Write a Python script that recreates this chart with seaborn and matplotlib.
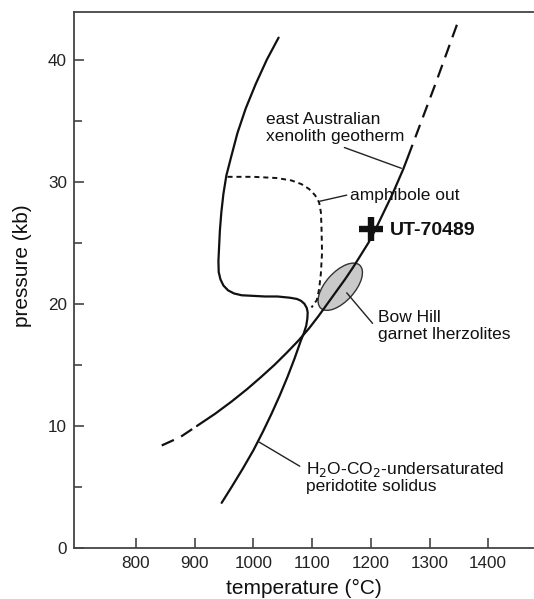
import numpy as np
import pandas as pd
import matplotlib
matplotlib.use("Agg")
import matplotlib.pyplot as plt
import seaborn as sns
from matplotlib.patches import Ellipse
from matplotlib.transforms import ScaledTranslation
from matplotlib.ticker import MultipleLocator

# ---------------- data ----------------
# H2O-CO2-undersaturated peridotite solidus (temperature °C, pressure kb)
solidus_T = [946, 963, 982, 1000, 1016, 1031, 1045, 1058, 1070, 1081, 1086, 1090,
             1092, 1092.5, 1091, 1087, 1081, 1074, 1062, 1041, 1020, 1000, 980,
             967, 957, 949, 944, 941, 940.5, 941.5, 943, 945.5, 949, 954, 962,
             973, 987, 1004, 1023, 1043]
solidus_P = [3.7, 5.0, 6.5, 8.0, 9.5, 11.0, 12.5, 14.0, 15.5, 17.0, 17.6, 18.2,
             18.8, 19.3, 19.65, 20.0, 20.25, 20.4, 20.5, 20.6, 20.6, 20.65, 20.7,
             20.85, 21.1, 21.5, 22.0, 22.6, 23.5, 24.5, 26.0, 27.5, 29.0, 30.5, 32.0,
             34.0, 36.0, 38.0, 40.0, 41.8]

# east Australian xenolith geotherm: solid part and dashed extrapolations
geo_T = [904, 935, 963, 989, 1013, 1036, 1057, 1077, 1095, 1111, 1126, 1141,
         1156, 1170, 1183, 1196, 1207, 1217, 1227, 1237, 1246, 1255, 1263]
geo_P = [10.0, 11.0, 12.0, 13.0, 14.0, 15.0, 16.0, 17.0, 18.0, 19.0, 20.0, 21.0,
         22.0, 23.0, 24.0, 25.0, 26.0, 27.0, 28.0, 29.0, 30.0, 31.0, 32.0]
geo_low_T = [844, 876, 904]
geo_low_P = [8.4, 9.1, 10.0]
geo_high_T = [1263, 1310, 1347]
geo_high_P = [32.0, 38.0, 42.9]

# amphibole-out boundary (dashed)
amph_T = [956, 1000, 1040, 1065, 1082, 1095, 1105, 1112, 1115, 1116, 1117,
          1115, 1112, 1108, 1099]
amph_P = [30.4, 30.4, 30.3, 30.1, 29.8, 29.4, 28.9, 28.3, 27.5, 26.3, 24.2,
          22.5, 21.2, 20.3, 19.7]

# sample UT-70489 and Bow Hill garnet lherzolite field centre
sample_T = [1201]
sample_P = [26.1]
bowhill_T = 1148
bowhill_P = 21.4

x_ticks = [800, 900, 1000, 1100, 1200, 1300, 1400]
y_ticks = [0, 10, 20, 30, 40]

# ---------------- figure ----------------
sns.set_theme(style="ticks")
plt.rcParams['font.family'] = ['Liberation Sans', 'DejaVu Sans']

fig = plt.figure(figsize=(5.34, 5.99), dpi=100)
ax = fig.add_axes([0.1386, 0.0851, 0.8614 - 0.001, 0.8949])

ink = "#111111"
lw = 1.6

sol_df = pd.DataFrame({"T": solidus_T, "P": solidus_P})
sns.lineplot(data=sol_df, x="T", y="P", sort=False, estimator=None, ax=ax,
             color=ink, lw=lw)

geo_df = pd.DataFrame({"T": geo_T, "P": geo_P})
sns.lineplot(data=geo_df, x="T", y="P", sort=False, estimator=None, ax=ax,
             color=ink, lw=lw)
for tt, pp in [(geo_low_T, geo_low_P), (geo_high_T, geo_high_P)]:
    d = pd.DataFrame({"T": tt, "P": pp})
    l = sns.lineplot(data=d, x="T", y="P", sort=False, estimator=None, ax=ax,
                     color=ink, lw=lw)
    l.lines[-1].set_dashes([6.0, 3.6])

amph_df = pd.DataFrame({"T": amph_T, "P": amph_P})
sns.lineplot(data=amph_df, x="T", y="P", sort=False, estimator=None, ax=ax,
             color=ink, lw=1.4)
ax.lines[-1].set_dashes([2.6, 2.0])

# Bow Hill ellipse (size in display inches, centred at data point)
ell = Ellipse((0, 0), width=0.58, height=0.29, angle=48,
              transform=fig.dpi_scale_trans + ScaledTranslation(bowhill_T, bowhill_P, ax.transData),
              facecolor="#c9c9c9", edgecolor="#333333", lw=1.0, zorder=1)
ax.add_patch(ell)

# UT-70489 cross
sns.scatterplot(x=sample_T, y=sample_P, marker="+", s=300, linewidth=4.6,
                color=ink, ax=ax, zorder=5)

# leader lines
lead_kw = dict(color="#222222", lw=1.0)
ax.plot([1155, 1252], [32.8, 31.1], **lead_kw)
ax.plot([1113, 1159], [28.4, 28.9], **lead_kw)
ax.plot([1159, 1203], [20.9, 18.4], **lead_kw)
ax.plot([1009, 1079], [8.7, 6.7], **lead_kw)

# texts
tk = dict(fontsize=12.5, color=ink, va="center", ha="left")
ax.text(1021, 35.1, "east Australian", **tk)
ax.text(1021, 33.7, "xenolith geotherm", **tk)
ax.text(1164, 28.9, "amphibole out", **tk)
ax.text(1232, 26.0, "UT-70489", fontsize=14, fontweight="bold", color=ink,
        va="center", ha="left")
ax.text(1213, 18.9, "Bow Hill", **tk)
ax.text(1213, 17.5, "garnet lherzolites", **tk)
ax.text(1089, 6.4, "H$_2$O-CO$_2$-undersaturated", **tk)
ax.text(1089, 5.0, "peridotite solidus", **tk)

# axes styling
ax.set_xlim(694.6, 1477)
ax.set_ylim(0, 43.9)
ax.set_xticks(x_ticks)
ax.set_yticks(y_ticks)
ax.yaxis.set_minor_locator(MultipleLocator(5))
ax.tick_params(axis="both", which="both", direction="in", length=7, width=1.2,
               color="#444444", labelcolor="#222222", labelsize=12.3)
ax.tick_params(axis="x", pad=6)
ax.tick_params(axis="y", pad=5)
ax.tick_params(axis="y", which="minor", length=6)

for s in ["left", "bottom", "top"]:
    ax.spines[s].set_color("#444444")
    ax.spines[s].set_linewidth(1.3)
ax.spines["right"].set_visible(False)

ax.set_xlabel("temperature (°C)", fontsize=15, color=ink)
ax.set_ylabel("pressure (kb)", fontsize=15, color=ink)
ax.xaxis.set_label_coords(0.5, -0.058)
ax.yaxis.set_label_coords(-0.091, 0.526)

ax.set_facecolor("white")
fig.patch.set_facecolor("white")
fig.savefig("out.png", dpi=100)
